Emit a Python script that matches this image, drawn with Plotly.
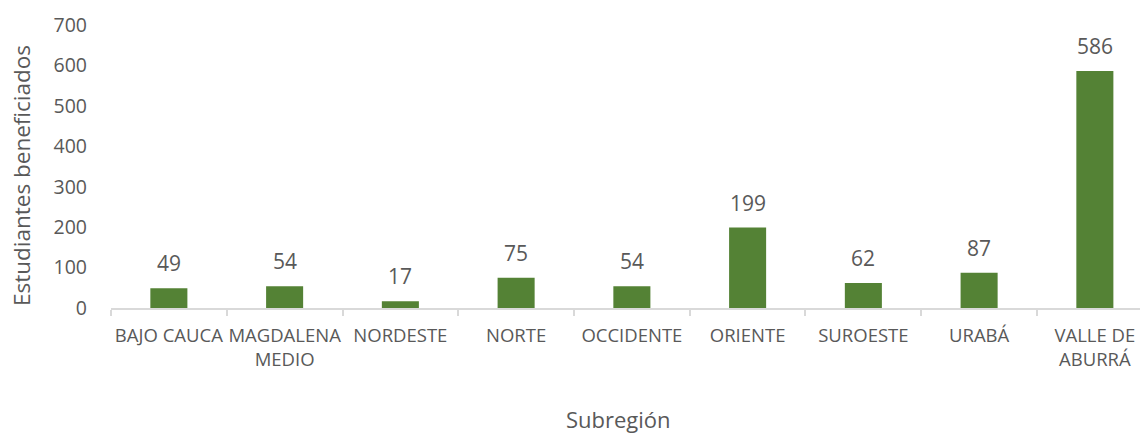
import plotly.graph_objects as go

categories = ["BAJO CAUCA", "MAGDALENA<br>MEDIO", "NORDESTE", "NORTE", "OCCIDENTE",
              "ORIENTE", "SUROESTE", "URABÁ", "VALLE DE<br>ABURRÁ"]
values = [49, 54, 17, 75, 54, 199, 62, 87, 586]
y_ticks = [0, 100, 200, 300, 400, 500, 600, 700]

FONT = "Open Sans"
TXT = "#595959"

fig = go.Figure(go.Bar(x=categories, y=values, marker_color="#548235",
                       marker_line_width=0, width=0.32))

for c, v in zip(categories, values):
    fig.add_annotation(x=c, y=v, text=str(v), showarrow=False, yanchor="middle",
                       yshift=25, font=dict(family=FONT, size=21, color=TXT))

# axis titles
fig.add_annotation(text="Estudiantes beneficiados", xref="paper", yref="paper",
                   x=0, y=(308 - 176) / 283, xanchor="center", yanchor="middle",
                   xshift=21 - 111, textangle=-90, showarrow=False,
                   font=dict(family=FONT, size=22.5, color=TXT))
fig.add_annotation(text="Subregión", xref="paper", yref="paper",
                   x=(618 - 111) / 1029, y=0, xanchor="center", yanchor="middle",
                   yshift=-(419 - 308), showarrow=False,
                   font=dict(family=FONT, size=22, color=TXT))

fig.update_layout(
    width=1140, height=437,
    margin=dict(l=111, r=0, t=25, b=129, autoexpand=False),
    paper_bgcolor="white", plot_bgcolor="white",
    font=dict(family=FONT, color=TXT),
    showlegend=False,
)
fig.update_xaxes(
    type="category", range=[-0.5, 8.39], automargin=False, tickangle=0,
    showline=True, linecolor="#d9d9d9", linewidth=2,
    ticks="outside", tickson="boundaries", ticklen=6, tickcolor="#d9d9d9", tickwidth=2,
    tickfont=dict(family=FONT, size=18.5, color=TXT), ticklabelstandoff=10,
    showgrid=False,
)
fig.update_yaxes(
    range=[0, 700], tickvals=y_ticks, showgrid=False, zeroline=False, automargin=False,
    tickfont=dict(family=FONT, size=19.5, color=TXT), ticks="", ticklabelstandoff=23,
)
fig.write_html("out.html", config={"displayModeBar": False},
               post_script="document.body.style.margin='0';document.body.style.overflow='hidden';")
